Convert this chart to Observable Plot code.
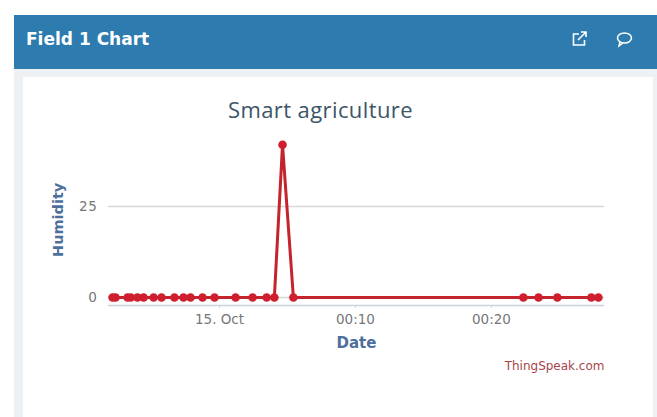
<!DOCTYPE html>
<html>
<head>
<meta charset="utf-8">
<script src="https://cdn.jsdelivr.net/npm/d3@7"></script>
<script src="https://cdn.jsdelivr.net/npm/@observablehq/plot@0.6"></script>
<style>
html,body{margin:0;padding:0;background:#fff;width:657px;height:417px;overflow:hidden}
#panel{position:absolute;left:14px;top:15px;width:643px;height:402px;background:#eef1f4}
#head{position:absolute;left:0;top:0;width:643px;height:54px;background:#2e7bb0;color:#fff;font:bold 17px "DejaVu Sans",sans-serif}
#head span{position:absolute;left:12px;top:14px;white-space:nowrap}
#head svg{position:absolute;top:14px}
#card{position:absolute;left:23px;top:77px;width:630px;height:340px;background:#fff}
#chart-title{position:absolute;left:0;top:17px;width:595px;text-align:center;font:22px "Open Sans",sans-serif;color:#3d5568;letter-spacing:.4px}
#card svg{position:absolute;left:0;top:0}
#card g[aria-label="x-axis tick label"],#card g[aria-label="y-axis tick label"]{letter-spacing:.7px}
</style>
</head>
<body>
<div id="panel">
  <div id="head"><span>Field 1 Chart</span>
    <svg style="left:556px" width="20" height="20" viewBox="0 0 20 20" fill="none" stroke="#fff" stroke-width="1.6"><path d="M9 5H3.500v11h11v-5"/><path d="M8 11 16 3M11 3h5v5"/></svg>
    <svg style="left:600px" width="20" height="20" viewBox="0 0 20 20" fill="none" stroke="#fff" stroke-width="1.5"><ellipse cx="10.500" cy="9" rx="7" ry="5"/><path d="M6 13l-1 4 4-3"/></svg>
  </div>
</div>
<div id="card"><div id="chart-title">Smart agriculture</div></div>
<script>
const times = ["2019-10-14T23:52:08Z","2019-10-14T23:52:21Z","2019-10-14T23:53:14Z","2019-10-14T23:53:28Z","2019-10-14T23:53:58Z","2019-10-14T23:54:25Z","2019-10-14T23:55:09Z","2019-10-14T23:55:44Z","2019-10-14T23:56:41Z","2019-10-14T23:57:21Z","2019-10-14T23:57:52Z","2019-10-14T23:58:45Z","2019-10-14T23:59:38Z","2019-10-15T00:01:11Z","2019-10-15T00:02:26Z","2019-10-15T00:03:28Z","2019-10-15T00:04:02Z","2019-10-15T00:04:38Z","2019-10-15T00:05:26Z","2019-10-15T00:22:21Z","2019-10-15T00:23:28Z","2019-10-15T00:24:51Z","2019-10-15T00:27:21Z","2019-10-15T00:27:52Z"];
const humidity = [0,0,0,0,0,0,0,0,0,0,0,0,0,0,0,0,0,42,0,0,0,0,0,0];
const xTicks = ["2019-10-15T00:00:00Z","2019-10-15T00:10:00Z","2019-10-15T00:20:00Z"];
const xTickLabels = ["15. Oct","00:10","00:20"];
const yTicks = [0,25];
const rows = times.map((t,i)=>({date:new Date(t),value:humidity[i]}));
const tickDates = xTicks.map(t=>new Date(t));
const font = '"DejaVu Sans",sans-serif';

const chart = Plot.plot({
  width:630,height:340,
  marginLeft:85,marginRight:49,marginTop:53,marginBottom:112,
  style:{background:"transparent",fontFamily:font,fontSize:"12px",overflow:"visible"},
  x:{type:"utc",domain:[new Date("2019-10-14T23:51:50Z"),new Date("2019-10-15T00:28:19Z")]},
  y:{domain:[-2.2,45.9]},
  marks:[
    Plot.gridY(yTicks,{stroke:"#d8d8d8",strokeOpacity:1,strokeWidth:1.5}),
    Plot.ruleY([-2.2],{stroke:"#ccd0d8",strokeWidth:1.5}),
    Plot.axisX({ticks:tickDates,tickFormat:d=>xTickLabels[tickDates.findIndex(t=>+t===+d)],tickSize:3,tickPadding:6,stroke:"#ccd0d8",fill:"#777777",fontSize:13.5,label:null,ariaLabel:"x-axis tick label"}),
    Plot.axisY({ticks:yTicks,tickSize:0,tickPadding:11,fill:"#777777",fontSize:13.5,label:null}),
    Plot.line(rows,{x:"date",y:"value",stroke:"#c4242c",strokeWidth:3,curve:"linear"}),
    Plot.dot(rows,{x:"date",y:"value",r:4.3,fill:"#cf1f2e"}),
    Plot.text(["Humidity"],{frameAnchor:"left",rotate:-90,dx:-50,dy:39,fill:"#4d6f9c",fontWeight:"bold",fontSize:14.5}),
    Plot.text(["Date"],{frameAnchor:"bottom",dy:38,dx:0,fill:"#4d6f9c",fontWeight:"bold",fontSize:15,lineAnchor:"middle"}),
    Plot.text(["ThingSpeak.com"],{frameAnchor:"bottom-right",dy:61,textAnchor:"end",fill:"#a8454a",fontSize:12,lineAnchor:"middle"})
  ]
});
document.getElementById("card").appendChild(chart);
</script>
</body>
</html>
